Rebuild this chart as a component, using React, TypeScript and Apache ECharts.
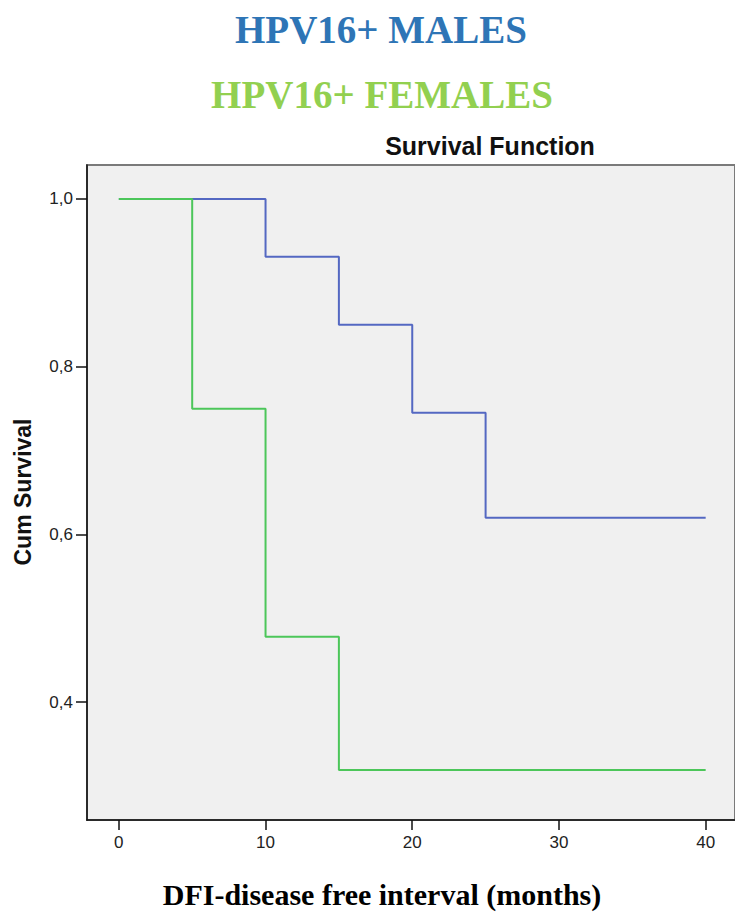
import React, { useEffect, useRef } from "react";
import * as echarts from "echarts";

const maleTimes = [0, 10, 15, 20, 25, 40];
const maleSurvival = [1.0, 0.931, 0.85, 0.745, 0.62, 0.62];
const femaleTimes = [0, 5, 10, 15, 40];
const femaleSurvival = [1.0, 0.75, 0.478, 0.319, 0.319];
const xTicks = [0, 10, 20, 30, 40];
const yTicks = [0.4, 0.6, 0.8, 1.0];

const titleMales = "HPV16+ MALES";
const titleFemales = "HPV16+ FEMALES";
const chartTitle = "Survival Function";
const yName = "Cum Survival";
const xName = "DFI-disease free interval (months)";

const SERIF = '"Times New Roman", "Liberation Serif", serif';
const SANS = 'Arial, "Liberation Sans", sans-serif';

export default function App() {
  const ref = useRef<HTMLDivElement>(null);
  useEffect(() => {
    document.body.style.margin = "0";
    const chart = echarts.init(ref.current!, null, { renderer: "svg" });
    const xMin = -2.17;
    const xMax = 42;
    const pxPerX = 14.725;
    chart.setOption({
      animation: false,
      backgroundColor: "#ffffff",
      grid: {
        left: 87,
        top: 165,
        width: (xMax - xMin) * pxPerX,
        height: 655,
        show: true,
        backgroundColor: "#f0f0f0",
        borderColor: "#7a7a7a",
        borderWidth: 2,
      },
      xAxis: {
        type: "value",
        min: xMin,
        max: xMax,
        splitLine: { show: false },
        axisLine: { show: true, onZero: false, lineStyle: { color: "#111", width: 1.5 } },
        axisTick: { show: true, length: 10, customValues: xTicks, lineStyle: { color: "#111", width: 1.5 } },
        axisLabel: {
          customValues: xTicks,
          margin: 14,
          color: "#222",
          fontFamily: SANS,
          fontSize: 17,
        },
      },
      yAxis: {
        type: "value",
        min: 0.2595,
        max: 1.0405,
        splitLine: { show: false },
        axisLine: { show: true, onZero: false, lineStyle: { color: "#111", width: 1.5 } },
        axisTick: { show: true, length: 11, customValues: yTicks, lineStyle: { color: "#111", width: 1.5 } },
        axisLabel: {
          customValues: yTicks,
          margin: 14,
          color: "#222",
          fontFamily: SANS,
          fontSize: 17,
          formatter: (v: number) => v.toFixed(1).replace(".", ","),
        },
      },
      series: [
        {
          name: "Males",
          type: "line",
          step: "end",
          symbol: "none",
          data: maleTimes.map((t, i) => [t, maleSurvival[i]]),
          lineStyle: { color: "#5468c2", width: 2 },
          z: 2,
        },
        {
          name: "Females",
          type: "line",
          step: "end",
          symbol: "none",
          data: femaleTimes.map((t, i) => [t, femaleSurvival[i]]),
          lineStyle: { color: "#4cc65a", width: 2 },
          z: 3,
        },
      ],
      graphic: [
        {
          type: "text",
          x: 381,
          y: 29,
          style: {
            text: titleMales,
            fill: "#2e75b6",
            font: `bold 39px ${SERIF}`,
            align: "center",
            verticalAlign: "middle",
          },
        },
        {
          type: "text",
          x: 382,
          y: 94,
          style: {
            text: titleFemales,
            fill: "#92d050",
            font: `bold 39px ${SERIF}`,
            align: "center",
            verticalAlign: "middle",
          },
        },
        {
          type: "text",
          x: 490,
          y: 146,
          style: {
            text: chartTitle,
            fill: "#111",
            font: `bold 25px ${SANS}`,
            align: "center",
            verticalAlign: "middle",
          },
        },
        {
          type: "text",
          x: 23,
          y: 492,
          rotation: Math.PI / 2,
          style: {
            text: yName,
            fill: "#111",
            font: `bold 23px ${SANS}`,
            align: "center",
            verticalAlign: "middle",
          },
        },
        {
          type: "text",
          x: 382,
          y: 894,
          style: {
            text: xName,
            fill: "#000",
            font: `bold 30px ${SERIF}`,
            align: "center",
            verticalAlign: "middle",
          },
        },
      ],
    });
    return () => chart.dispose();
  }, []);
  return <div ref={ref} style={{ width: 735, height: 913 }} />;
}
